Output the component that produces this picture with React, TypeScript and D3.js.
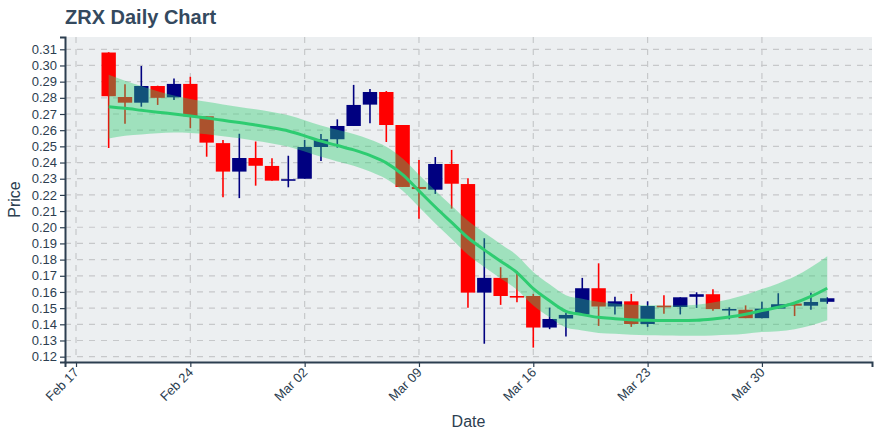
import React, { useEffect, useRef } from 'react';
import * as d3 from 'd3';

const WIDTH = 880;
const HEIGHT = 440;
const FONT = '"Liberation Sans", Arial, Helvetica, sans-serif';
const TEXT = '#2c3e50';

// daily candles, first one on 2020-02-19
const firstDay = '2020-02-19';
const opens = [
  0.308, 0.2805, 0.277, 0.2873, 0.2803, 0.2886, 0.2686, 0.252, 0.2344, 0.2428, 0.2379,
  0.2291, 0.23, 0.2496, 0.2544, 0.2626, 0.2758, 0.2836, 0.2632, 0.2249, 0.2232, 0.2391,
  0.2267, 0.1596, 0.1687, 0.1575, 0.1575, 0.138, 0.1436, 0.146, 0.1623, 0.151, 0.1542,
  0.1402, 0.1515, 0.1507, 0.157, 0.1586, 0.1493, 0.149, 0.1438, 0.1497, 0.1528, 0.1515, 0.1539,
];
const highs = [
  0.3082, 0.2884, 0.2997, 0.2875, 0.292, 0.293, 0.2686, 0.254, 0.2578, 0.253, 0.2426,
  0.2442, 0.254, 0.2576, 0.2667, 0.288, 0.2855, 0.2842, 0.2632, 0.2416, 0.2434, 0.2478,
  0.2303, 0.1932, 0.1753, 0.173, 0.1588, 0.1503, 0.1472, 0.1687, 0.1777, 0.1571, 0.1588,
  0.1542, 0.158, 0.1567, 0.1598, 0.1617, 0.1505, 0.1517, 0.154, 0.1592, 0.1535, 0.1595, 0.1567,
];
const lows = [
  0.249, 0.264, 0.2745, 0.2756, 0.2787, 0.2612, 0.2436, 0.2185, 0.218, 0.2257, 0.2288,
  0.2247, 0.23, 0.241, 0.2492, 0.2626, 0.2643, 0.2527, 0.2249, 0.2053, 0.2206, 0.2115,
  0.1503, 0.128, 0.152, 0.1537, 0.1256, 0.137, 0.1324, 0.146, 0.139, 0.1461, 0.1384,
  0.1384, 0.1466, 0.1461, 0.1501, 0.1484, 0.1431, 0.1438, 0.1438, 0.1497, 0.1451, 0.149, 0.1527,
];
const closes = [
  0.281, 0.277, 0.2873, 0.28, 0.2886, 0.2686, 0.2523, 0.2344, 0.2428, 0.238, 0.2288,
  0.2297, 0.2496, 0.2544, 0.2626, 0.2756, 0.2836, 0.2632, 0.2249, 0.2236, 0.2391, 0.2269,
  0.1596, 0.1687, 0.1575, 0.1571, 0.138, 0.1433, 0.1458, 0.1623, 0.151, 0.1542, 0.1402,
  0.1513, 0.1511, 0.1567, 0.1586, 0.1494, 0.1495, 0.1438, 0.1497, 0.1524, 0.1515, 0.1538, 0.1561,
];

// smoothed trend and half width of its band, one value per candle
const trend = [
  0.2745, 0.2735, 0.2723, 0.2711, 0.27, 0.2688, 0.2675, 0.2661, 0.2647, 0.2632, 0.2615,
  0.2595, 0.2565, 0.2532, 0.2505, 0.2478, 0.2444, 0.2398, 0.2325, 0.2225, 0.2125, 0.203,
  0.1935, 0.186, 0.179, 0.172, 0.162, 0.1545, 0.148, 0.146, 0.1443, 0.1435, 0.1428,
  0.1425, 0.1424, 0.1423, 0.1425, 0.1433, 0.1445, 0.1462, 0.1485, 0.1505, 0.1532, 0.1572, 0.1623,
];
const bandHalf = [
  0.0197, 0.017, 0.015, 0.013, 0.0115, 0.0105, 0.01, 0.0098, 0.0097, 0.0097, 0.0097,
  0.0097, 0.0097, 0.0097, 0.0098, 0.0098, 0.0099, 0.01, 0.01, 0.01, 0.0102, 0.0103,
  0.0105, 0.0106, 0.0107, 0.0106, 0.0104, 0.0102, 0.01, 0.0098, 0.0096, 0.0094, 0.0093,
  0.0093, 0.0093, 0.0093, 0.0096, 0.0102, 0.011, 0.012, 0.0133, 0.0148, 0.0163, 0.018, 0.0198,
];

const xStart = '2020-02-17';
const xTickDates = ['2020-02-17', '2020-02-24', '2020-03-02', '2020-03-09', '2020-03-16', '2020-03-23', '2020-03-30'];
const yTicks = [0.12, 0.13, 0.14, 0.15, 0.16, 0.17, 0.18, 0.19, 0.2, 0.21, 0.22, 0.23, 0.24, 0.25, 0.26, 0.27, 0.28, 0.29, 0.3, 0.31];

const margin = { top: 37, right: 8, bottom: 78, left: 65 };
const DAY = 86400000;

function App() {
  const ref = useRef<SVGSVGElement>(null);

  useEffect(() => {
    const svg = d3.select(ref.current);
    svg.selectAll('*').remove();

    const w = WIDTH - margin.left - margin.right;
    const h = HEIGHT - margin.top - margin.bottom;
    const t0 = new Date(xStart + 'T00:00:00Z').getTime();

    const x = d3.scaleUtc()
      .domain([new Date(t0 - 0.674 * DAY), new Date(t0 + 48.74 * DAY)])
      .range([0, w]);
    const y = d3.scaleLinear().domain([0.1167, 0.3176]).range([h, 0]);

    const first = new Date(firstDay + 'T00:00:00Z');
    const days = d3.utcDay.range(first, d3.utcDay.offset(first, opens.length));
    const data = days.map((d, i) => ({
      d, o: opens[i], h: highs[i], l: lows[i], c: closes[i], t: trend[i], b: bandHalf[i],
    }));

    const g = svg.append('g').attr('transform', `translate(${margin.left},${margin.top})`);

    g.append('rect').attr('width', w).attr('height', h).attr('fill', '#eceff1');

    // grid
    g.append('g')
      .selectAll('line')
      .data(yTicks)
      .join('line')
      .attr('x1', 0).attr('x2', w)
      .attr('y1', (d) => y(d)).attr('y2', (d) => y(d))
      .attr('stroke', '#c6c8ca').attr('stroke-width', 1.2).attr('stroke-dasharray', '6,6');
    const xTicks = xTickDates.map((s) => new Date(s + 'T00:00:00Z'));
    g.append('g')
      .selectAll('line')
      .data(xTicks)
      .join('line')
      .attr('x1', (d) => x(d)).attr('x2', (d) => x(d))
      .attr('y1', 0).attr('y2', h)
      .attr('stroke', '#c6c8ca').attr('stroke-width', 1.2).attr('stroke-dasharray', '6,6');

    // candles
    const bw = (x(new Date(t0 + DAY)) - x(new Date(t0))) * 0.88;
    const candles = g.append('g')
      .selectAll('g')
      .data(data)
      .join('g')
      .attr('fill', (d) => (d.c >= d.o ? '#000080' : '#ff0000'))
      .attr('stroke', (d) => (d.c >= d.o ? '#000080' : '#ff0000'));
    candles.append('line')
      .attr('x1', (d) => x(d.d)).attr('x2', (d) => x(d.d))
      .attr('y1', (d) => y(d.h)).attr('y2', (d) => y(d.l))
      .attr('stroke-width', 1.6);
    candles.append('rect')
      .attr('x', (d) => x(d.d) - bw / 2)
      .attr('width', bw)
      .attr('y', (d) => y(Math.max(d.o, d.c)))
      .attr('height', (d) => Math.max(1.6, Math.abs(y(d.o) - y(d.c))))
      .attr('stroke', 'none');

    // trend band and line
    g.append('path')
      .datum(data)
      .attr('fill', 'rgba(46, 204, 113, 0.4)')
      .attr('d', d3.area<any>()
        .curve(d3.curveMonotoneX)
        .x((d) => x(d.d))
        .y0((d) => y(d.t - d.b))
        .y1((d) => y(d.t + d.b)));
    g.append('path')
      .datum(data)
      .attr('fill', 'none')
      .attr('stroke', '#2ecc71')
      .attr('stroke-width', 3)
      .attr('d', d3.line<any>()
        .curve(d3.curveMonotoneX)
        .x((d) => x(d.d))
        .y((d) => y(d.t)));

    // axes
    const yAxis = g.append('g')
      .call(d3.axisLeft(y).tickValues(yTicks).tickFormat(d3.format('.2f')).tickSizeOuter(0).tickSize(5).tickPadding(3));
    const xAxis = g.append('g')
      .attr('transform', `translate(0,${h})`)
      .call(d3.axisBottom(x).tickValues(xTicks).tickFormat(d3.utcFormat('%b %d') as any).tickSizeOuter(0).tickSize(5));
    [yAxis, xAxis].forEach((a) => {
      a.select('.domain').attr('stroke', TEXT).attr('stroke-width', 2);
      a.selectAll('.tick line').attr('stroke', TEXT).attr('stroke-width', 1.2);
      a.selectAll('text').attr('fill', TEXT).attr('font-family', FONT).attr('font-size', 13);
    });
    // rotated date labels, ending just below the tick
    xAxis.selectAll('.tick text')
      .attr('text-anchor', 'end')
      .attr('y', 0)
      .attr('dy', '0.35em')
      .attr('transform', 'translate(0,8) rotate(-45)');

    // labels
    svg.append('text')
      .attr('x', margin.left).attr('y', 24)
      .attr('font-family', FONT).attr('font-size', 20).attr('font-weight', 'bold')
      .attr('fill', '#34495e')
      .text('ZRX Daily Chart');
    svg.append('text')
      .attr('x', margin.left + w / 2).attr('y', 427)
      .attr('text-anchor', 'middle')
      .attr('font-family', FONT).attr('font-size', 16).attr('fill', TEXT)
      .text('Date');
    svg.append('text')
      .attr('transform', `translate(20,${margin.top + h / 2}) rotate(-90)`)
      .attr('text-anchor', 'middle')
      .attr('font-family', FONT).attr('font-size', 16).attr('fill', TEXT)
      .text('Price');
  }, []);

  return (
    <svg
      ref={ref}
      width={WIDTH}
      height={HEIGHT}
      style={{ position: 'absolute', left: 0, top: 0, background: '#fff' }}
    />
  );
}

export default App;
